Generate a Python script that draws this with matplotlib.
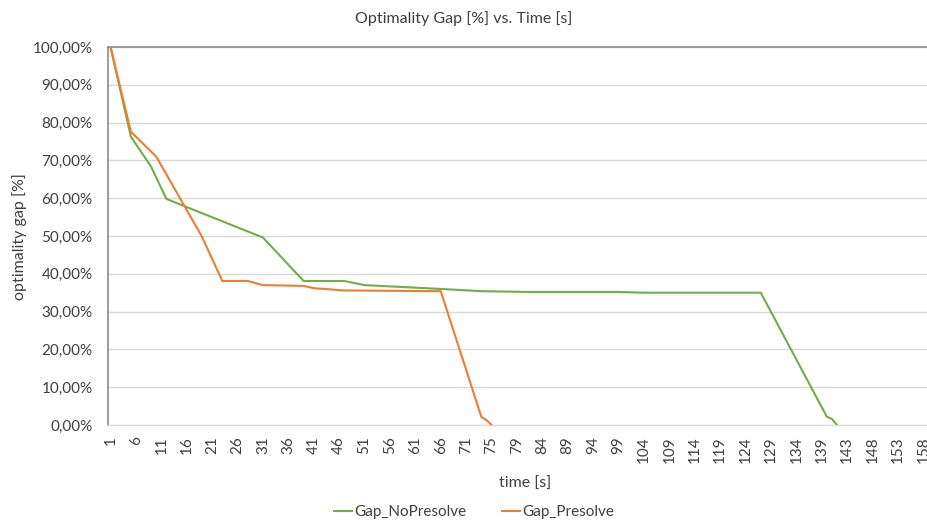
import matplotlib
matplotlib.use("Agg")
import matplotlib.pyplot as plt

# time stamps of the solver log rows (some seconds appear twice)
times = (list(range(1, 74)) + [73, 74, 75, 76, 77, 77, 78]
         + list(range(79, 141)) + [141, 141] + list(range(142, 164)))

# optimality gap [%] at the rows where the curves change slope
nopresolve_row = [0, 4, 8, 11, 30, 38, 46, 50, 65, 73, 82, 100, 105, 128, 141, 142, 143]
nopresolve_gap = [100.0, 76.3, 68.3, 59.8, 49.6, 38.1, 38.1, 37.0, 36.0, 35.4, 35.2,
                  35.2, 35.0, 35.0, 2.2, 1.6, 0.0]

presolve_row = [0, 4, 9, 18, 22, 27, 30, 38, 40, 46, 65, 73, 74, 75]
presolve_gap = [100.0, 77.6, 71.0, 49.8, 38.1, 38.1, 37.0, 36.8, 36.2, 35.6, 35.4,
                2.1, 1.3, 0.0]

plt.rcParams['font.family'] = ['Lato', 'DejaVu Sans']

fig = plt.figure(figsize=(9.28, 5.22), dpi=100)
# one category is about 5.08 px wide; the axis runs past the right edge
ax = fig.add_axes([108 / 928, 1 - 425 / 522, len(times) * 5.08 / 928, 378 / 522])

ax.plot(nopresolve_row, nopresolve_gap, color='#70AD47', lw=1.5, label='Gap_NoPresolve')
ax.plot(presolve_row, presolve_gap, color='#ED7D31', lw=1.5, label='Gap_Presolve')

ax.set_xlim(-0.5, len(times) - 0.5)
ax.set_ylim(0, 100)
ax.set_yticks(range(0, 101, 10))
ax.set_yticklabels([f'{v},00%' for v in range(0, 101, 10)], fontsize=11, color='#404040')
ax.set_xticks(range(0, len(times), 5))
ax.set_xticklabels([str(t) for t in times[::5]], rotation=90, fontsize=11, color='#404040')
ax.tick_params(length=0)
ax.tick_params(axis='y', pad=11)
ax.tick_params(axis='x', pad=8)
ax.grid(axis='y', color='#D9D9D9', lw=1)
ax.set_axisbelow(True)

for s in ['left', 'top']:
    ax.spines[s].set_color('#8C8C8C')
    ax.spines[s].set_linewidth(1.2)
ax.spines['right'].set_visible(False)
ax.spines['bottom'].set_color('#D9D9D9')

fig.text(0.5, 1 - 19 / 522, 'Optimality Gap [%] vs. Time [s]', ha='center', va='center',
         fontsize=11.5, color='#404040')
fig.text(20 / 928, 1 - 237 / 522, 'optimality gap [%]', rotation=90, ha='center', va='center',
         fontsize=11.5, color='#404040')
fig.text(525 / 928, 1 - 484 / 522, 'time [s]', ha='center', va='center',
         fontsize=11.5, color='#404040')

fig.legend(loc='center', bbox_to_anchor=(474 / 928, 1 - 512 / 522), ncol=2, frameon=False,
           fontsize=11, handlelength=1.2, handletextpad=0.15, columnspacing=2.3,
           labelcolor='#404040')

fig.savefig('out.png', dpi=100)
